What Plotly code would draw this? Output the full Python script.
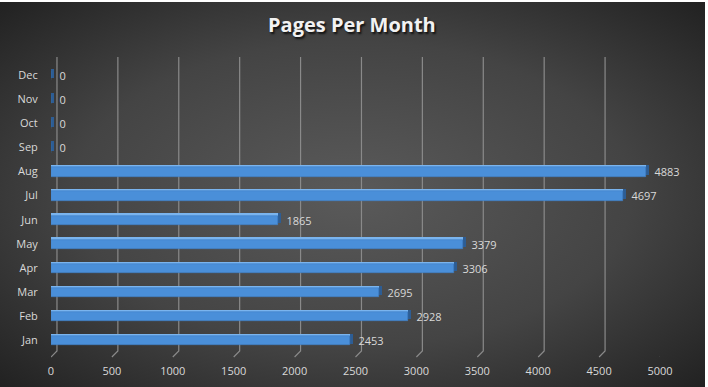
import base64
import plotly.graph_objects as go

months = ["Jan", "Feb", "Mar", "Apr", "May", "Jun", "Jul", "Aug", "Sep", "Oct", "Nov", "Dec"]
pages = [2453, 2928, 2695, 3306, 3379, 1865, 4697, 4883, 0, 0, 0, 0]
x_ticks = [0, 500, 1000, 1500, 2000, 2500, 3000, 3500, 4000, 4500, 5000]

W, H = 708, 387
FONT = "Open Sans"
DEPTH = 25  # 3D depth of bar side, in data units
GRID_SHIFT = 49  # back-wall offset of gridlines, in data units

svg = """<svg xmlns='http://www.w3.org/2000/svg' width='705' height='385' viewBox='0 0 705 385' preserveAspectRatio='none'>
<defs><radialGradient id='g' cx='0.5' cy='0.5' r='0.72'>
<stop offset='0' stop-color='#5a5a5a'/><stop offset='0.55' stop-color='#444444'/><stop offset='1' stop-color='#202020'/>
</radialGradient></defs><rect width='705' height='385' fill='url(#g)'/></svg>"""
src = "data:image/svg+xml;base64," + base64.b64encode(svg.encode()).decode()

fig = go.Figure()
# side face (dark), drawn behind
fig.add_trace(go.Bar(y=months, x=[v + DEPTH for v in pages], orientation="h",
                     width=0.4, offset=-0.14, marker=dict(color="#2d5d94", line=dict(width=0)),
                     hoverinfo="skip", showlegend=False))
# top face (light)
fig.add_trace(go.Bar(y=months, x=pages, orientation="h",
                     width=0.09, offset=0.17, marker=dict(color="#7ab4ee", line=dict(width=0)),
                     hoverinfo="skip", showlegend=False))
# front face
fig.add_trace(go.Bar(y=months, x=pages, orientation="h",
                     width=0.39, offset=-0.22,
                     marker=dict(color="#4a8fd9", line=dict(color="#3f7fc4", width=0.6)),
                     text=["  " + str(v) for v in pages], textposition="outside",
                     constraintext="none",
                     textfont=dict(color="#d9d9d9", size=11, family=FONT),
                     cliponaxis=False, showlegend=False))

y_front = 30 / H
y_back = 36 / H
y_top = 330 / H
shapes = []
for t in x_ticks:
    shapes.append(dict(type="path", xref="x", yref="paper", layer="below",
                       path=f"M {t},{y_front} L {t + GRID_SHIFT},{y_back} L {t + GRID_SHIFT},{y_top}",
                       line=dict(color="#8a8a8a", width=1.2)))

annotations = [
    dict(text="<b>Pages Per Month</b>", xref="paper", yref="paper", x=352 / W, y=1 - 25 / H,
         xanchor="center", yanchor="middle", showarrow=False,
         font=dict(family=FONT, size=20, color="#f2f2f2",
                   shadow="1.5px 1.5px 2px rgba(0,0,0,0.75)")),
]

fig.update_layout(
    width=W, height=H, autosize=False, margin=dict(l=0, r=0, t=0, b=0, pad=0),
    paper_bgcolor="white", plot_bgcolor="rgba(0,0,0,0)",
    barmode="overlay", bargap=0,
    images=[dict(source=src, xref="paper", yref="paper", x=0, y=1 - 2 / H,
                 sizex=705 / W, sizey=385 / H, sizing="stretch", layer="below",
                 xanchor="left", yanchor="top")],
    shapes=shapes, annotations=annotations,
    xaxis=dict(range=[0, 5000], domain=[51 / W, 660 / W], tickvals=x_ticks,
               automargin=False,
               showgrid=False, zeroline=False, showline=False,
               ticks="outside", ticklen=4, tickcolor="rgba(0,0,0,0)",
               tickfont=dict(family=FONT, size=11, color="#d9d9d9")),
    yaxis=dict(type="category", categoryorder="array", categoryarray=months,
               range=[-0.7, 11.75], domain=[30 / H, 330 / H], automargin=False,
               showgrid=False, zeroline=False, showline=False,
               ticks="outside", ticklen=10, tickcolor="rgba(0,0,0,0)",
               tickfont=dict(family=FONT, size=11, color="#d9d9d9")),
    font=dict(family=FONT),
)

post = "document.body.style.margin='0';document.body.style.overflow='hidden';"
fig.write_html("out.html", config={"displayModeBar": False}, post_script=post)
